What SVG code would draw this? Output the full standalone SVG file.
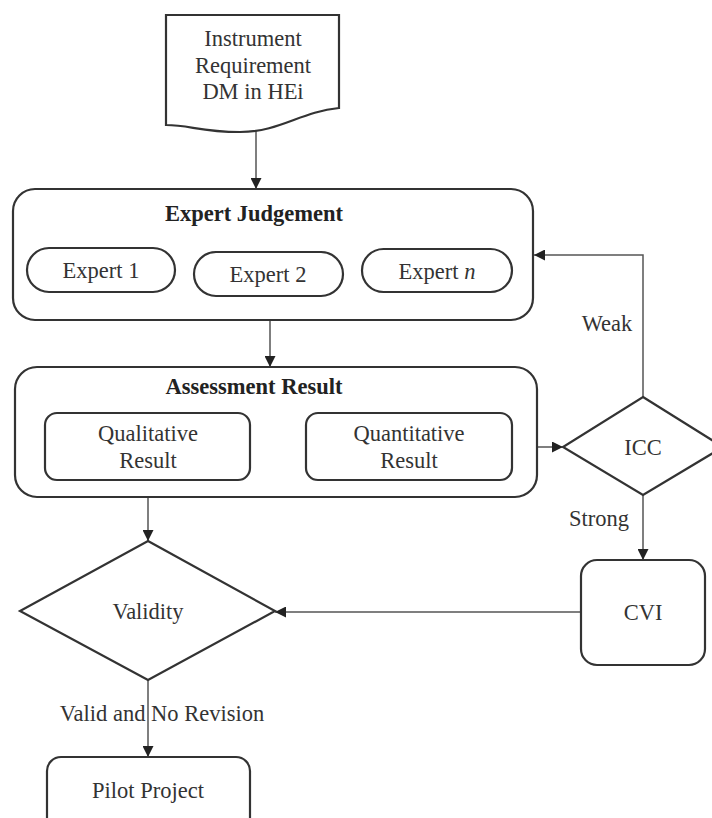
<svg xmlns="http://www.w3.org/2000/svg" width="712" height="818" viewBox="0 0 712 818">
<style>
.s{fill:#fff;stroke:#333;stroke-width:2.2}
.c{fill:none;stroke:#555;stroke-width:1.5}
text{font-family:"Liberation Serif","Times New Roman",serif;font-size:22.5px;fill:#333;text-anchor:middle}
.b{font-weight:bold;fill:#222}
</style>
<defs>
<marker id="ah" viewBox="0 0 10 10" refX="10" refY="5" markerWidth="11" markerHeight="11" markerUnits="userSpaceOnUse" orient="auto">
<path d="M0,0 L10,5 L0,10 Z" fill="#222"/>
</marker>
</defs>
<rect width="712" height="818" fill="#fff"/>
<g id="connectors">
<path class="c" d="M256,130 V189" marker-end="url(#ah)"/>
<path class="c" d="M270,321 V367" marker-end="url(#ah)"/>
<path class="c" d="M148,481 V541" marker-end="url(#ah)"/>
<path class="c" d="M512,447 H563" marker-end="url(#ah)"/>
<path class="c" d="M643,397 V255 H534" marker-end="url(#ah)"/>
<path class="c" d="M643,495 V560" marker-end="url(#ah)"/>
<path class="c" d="M581,612 H275" marker-end="url(#ah)"/>
<path class="c" d="M148,680 V757" marker-end="url(#ah)"/>
<text x="607" y="331">Weak</text>
<text x="599" y="526">Strong</text>
<text x="162" y="721">Valid and No Revision</text>
</g>
<g id="instrument">
<path class="s" d="M166,15 H339 V108 C300,112 280,132 240,132 C200,132 190,125 166,125 Z"/>
<text x="253" y="46">Instrument</text>
<text x="253" y="73">Requirement</text>
<text x="253" y="99">DM in HEi</text>
</g>
<g id="expert-judgement">
<rect class="s" x="13" y="189" width="520" height="131" rx="22"/>
<text class="b" x="254" y="221">Expert Judgement</text>
</g>
<g id="expert1">
<rect class="s" x="27" y="248" width="148" height="44" rx="22"/>
<text x="101" y="278">Expert 1</text>
</g>
<g id="expert2">
<rect class="s" x="194" y="252" width="149" height="44" rx="22"/>
<text x="268" y="282">Expert 2</text>
</g>
<g id="expertn">
<rect class="s" x="362" y="249" width="150" height="43" rx="21.5"/>
<text x="437" y="279">Expert <tspan font-style="italic">n</tspan></text>
</g>
<g id="assessment-result">
<rect class="s" x="15" y="367" width="522" height="130" rx="22"/>
<text class="b" x="254" y="394">Assessment Result</text>
</g>
<g id="qualitative">
<rect class="s" x="45" y="413" width="205" height="67" rx="12"/>
<text x="148" y="441">Qualitative</text>
<text x="148" y="468">Result</text>
</g>
<g id="quantitative">
<rect class="s" x="306" y="413" width="206" height="67" rx="12"/>
<text x="409" y="441">Quantitative</text>
<text x="409" y="468">Result</text>
</g>
<g id="icc">
<path class="s" d="M643,397 L723,447 L643,495 L563,447 Z"/>
<text x="643" y="455">ICC</text>
</g>
<g id="cvi">
<rect class="s" x="581" y="560" width="124" height="105" rx="16"/>
<text x="643" y="620">CVI</text>
</g>
<g id="validity">
<path class="s" d="M148,541 L275,611 L148,680 L20,611 Z"/>
<text x="148" y="619">Validity</text>
</g>
<g id="pilot">
<rect class="s" x="47" y="757" width="203" height="80" rx="14"/>
<text x="148" y="798">Pilot Project</text>
</g>
</svg>
